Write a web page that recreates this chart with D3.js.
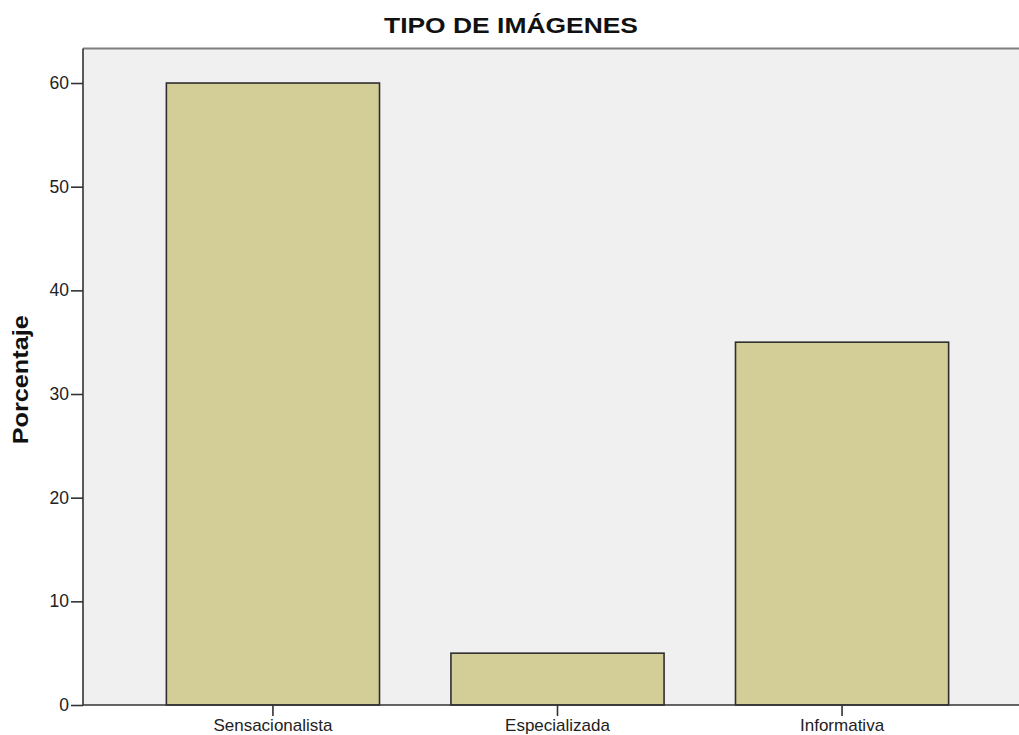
<!DOCTYPE html>
<html>
<head>
<meta charset="utf-8">
<script src="https://cdn.jsdelivr.net/npm/d3@7"></script>
<style>
  html, body { margin: 0; padding: 0; background: #fff; }
  svg { display: block; font-family: "Liberation Sans", Arial, sans-serif; }
</style>
</head>
<body>
<svg id="chart" width="1019" height="735"></svg>
<script>
// Chart data
const categories = ["Sensacionalista", "Especializada", "Informativa"];
const percentages = [60, 5, 35];
const yTicks = [0, 10, 20, 30, 40, 50, 60];
const chartTitle = "TIPO DE IMÁGENES";
const yLabel = "Porcentaje";

(function () {
  const svg = d3.select("#chart");
  const W = 1019;

  // Plot frame (the frame runs slightly past the right edge of the page)
  const plotL = 83, plotR = 1032, plotT = 48.5, plotB = 705;

  const x = d3.scaleBand()
    .domain(categories)
    .range([plotL, plotR])
    .paddingInner(0.251)
    .paddingOuter(0.293);

  const y = d3.scaleLinear()
    .domain([0, 63.33])
    .range([plotB, plotT]);

  // Plot background
  svg.append("rect")
    .attr("x", plotL).attr("y", plotT)
    .attr("width", plotR - plotL).attr("height", plotB - plotT)
    .attr("fill", "#f0f0f0");

  // Top border of the frame
  svg.append("line")
    .attr("x1", plotL).attr("x2", W)
    .attr("y1", plotT).attr("y2", plotT)
    .attr("stroke", "#7f7f7f").attr("stroke-width", 2);

  // Bars
  svg.append("g").selectAll("rect")
    .data(categories)
    .join("rect")
    .attr("x", d => x(d))
    .attr("y", (d, i) => y(percentages[i]))
    .attr("width", x.bandwidth())
    .attr("height", (d, i) => y(0) - y(percentages[i]))
    .attr("fill", "#d3ce97")
    .attr("stroke", "#2e2e2e")
    .attr("stroke-width", 1.6);

  // Y axis
  const yAxis = svg.append("g")
    .attr("transform", `translate(${plotL},0)`)
    .call(d3.axisLeft(y).tickValues(yTicks).tickSize(12).tickSizeOuter(0).tickPadding(2));
  yAxis.select(".domain").attr("stroke", "#333").attr("stroke-width", 1.6)
    .attr("d", `M0,${plotT}V${plotB}`);
  yAxis.selectAll(".tick line").attr("stroke", "#333").attr("stroke-width", 1.6);
  yAxis.selectAll(".tick text")
    .attr("fill", "#222")
    .style("font-size", "17.5px")
    .style("font-family", "'Liberation Sans', Arial, sans-serif");

  // X axis
  const xAxis = svg.append("g")
    .attr("transform", `translate(0,${plotB})`)
    .call(d3.axisBottom(x).tickSize(11).tickSizeOuter(0).tickPadding(3));
  xAxis.select(".domain").attr("stroke", "#333").attr("stroke-width", 1.6)
    .attr("d", `M${plotL},0H${W}`);
  xAxis.selectAll(".tick line").attr("stroke", "#333").attr("stroke-width", 1.6);
  xAxis.selectAll(".tick text")
    .attr("fill", "#222")
    .style("font-size", "17px")
    .style("font-family", "'Liberation Sans', Arial, sans-serif");

  // Title
  svg.append("text")
    .attr("x", 511).attr("y", 33.3)
    .attr("text-anchor", "middle")
    .attr("textLength", 254)
    .attr("lengthAdjust", "spacingAndGlyphs")
    .style("font-size", "22px")
    .style("font-weight", "bold")
    .attr("fill", "#111")
    .text(chartTitle);

  // Y axis label
  svg.append("text")
    .attr("transform", `translate(28,${(plotT + plotB) / 2 + 3}) rotate(-90)`)
    .attr("text-anchor", "middle")
    .attr("textLength", 129)
    .attr("lengthAdjust", "spacingAndGlyphs")
    .style("font-size", "21.5px")
    .style("font-weight", "bold")
    .attr("fill", "#111")
    .text(yLabel);
})();
</script>
</body>
</html>
